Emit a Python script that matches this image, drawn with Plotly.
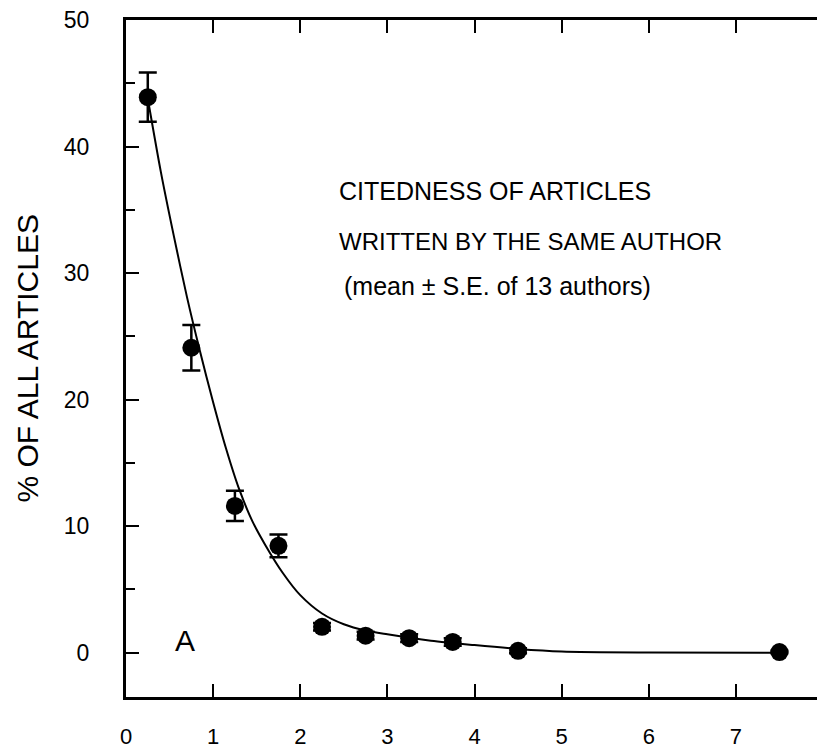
import plotly.graph_objects as go

# Data points (mean ± S.E.)
x_pts = [0.25, 0.75, 1.25, 1.75, 2.25, 2.75, 3.25, 3.75, 4.5, 7.5]
y_pts = [43.9, 24.1, 11.6, 8.45, 2.05, 1.35, 1.15, 0.85, 0.15, 0.05]
se_pts = [1.95, 1.8, 1.2, 0.9, 0.3, 0.3, 0.3, 0.3, 0.2, 0.1]

# Fitted curve
x_curve = [0.25, 0.4, 0.55, 0.7, 0.85, 1.0, 1.15, 1.3, 1.45, 1.6, 1.8, 2.0,
           2.25, 2.5, 2.75, 3.0, 3.5, 4.0, 4.5, 5.0, 6.0, 7.5]
y_curve = [43.8, 38.0, 32.9, 28.1, 23.8, 19.8, 16.1, 12.9, 10.4, 8.5, 6.3, 4.55,
           3.1, 2.25, 1.75, 1.45, 0.95, 0.6, 0.3, 0.1, 0.02, 0.0]

x_ticks = [0, 1, 2, 3, 4, 5, 6, 7]
y_ticks = [0, 10, 20, 30, 40, 50]

FONT = "Liberation Sans, Arial, sans-serif"

fig = go.Figure()
fig.add_trace(go.Scatter(
    x=x_curve, y=y_curve, mode="lines",
    line=dict(color="black", width=2, shape="spline", smoothing=0.8),
    hoverinfo="skip", showlegend=False))
fig.add_trace(go.Scatter(
    x=x_pts, y=y_pts, mode="markers",
    marker=dict(color="black", size=18),
    error_y=dict(type="data", array=se_pts, visible=True,
                 color="black", thickness=2.5, width=9),
    showlegend=False))

fig.add_annotation(x=2.42, y=36.5, xref="x", yref="y", xanchor="left",
                   yanchor="middle", showarrow=False,
                   text="CITEDNESS OF ARTICLES",
                   font=dict(family=FONT, size=25, color="black"))
fig.add_annotation(x=2.42, y=32.5, xref="x", yref="y", xanchor="left",
                   yanchor="middle", showarrow=False,
                   text="WRITTEN BY THE SAME AUTHOR",
                   font=dict(family=FONT, size=24, color="black"))
fig.add_annotation(x=2.48, y=29.0, xref="x", yref="y", xanchor="left",
                   yanchor="middle", showarrow=False,
                   text="(mean ± S.E. of 13 authors)",
                   font=dict(family=FONT, size=25, color="black"))
fig.add_annotation(x=0.68, y=1.0, xref="x", yref="y", xanchor="center",
                   yanchor="middle", showarrow=False, text="A",
                   font=dict(family=FONT, size=30, color="black"))
fig.add_annotation(x=0, y=0.5, xref="paper", yref="paper", xanchor="center",
                   yanchor="middle", xshift=-99, showarrow=False,
                   textangle=-90, text="% OF ALL ARTICLES",
                   font=dict(family=FONT, size=30, color="black"))

fig.update_xaxes(
    range=[0, 8], tickvals=x_ticks, ticktext=[str(v) for v in x_ticks],
    ticks="inside", ticklen=13, tickwidth=2, tickcolor="black",
    showline=True, linecolor="black", linewidth=3, mirror="ticks",
    showgrid=False, zeroline=False, ticklabelstandoff=18, automargin=False,
    ticklabeloverflow="allow",
    tickfont=dict(family=FONT, size=22, color="black"))
fig.update_yaxes(
    range=[-3.5, 50], tickvals=y_ticks, ticktext=[str(v) for v in y_ticks],
    ticks="inside", ticklen=13, tickwidth=2, tickcolor="black",
    minor=dict(dtick=5, ticks="inside", ticklen=9, tickwidth=2,
               tickcolor="black", showgrid=False),
    showline=True, linecolor="black", linewidth=3, mirror=True,
    showgrid=False, zeroline=False, ticklabelstandoff=29, automargin=False,
    ticklabeloverflow="allow",
    tickfont=dict(family=FONT, size=23, color="black"))

# page body has an 8px default margin; size the figure so it fits the window
fig.update_layout(
    width=817, height=741,
    margin=dict(l=118, r=2, t=12, b=52),
    plot_bgcolor="white", paper_bgcolor="white",
    font=dict(family=FONT, color="black"))

fig.write_html("out.html")
